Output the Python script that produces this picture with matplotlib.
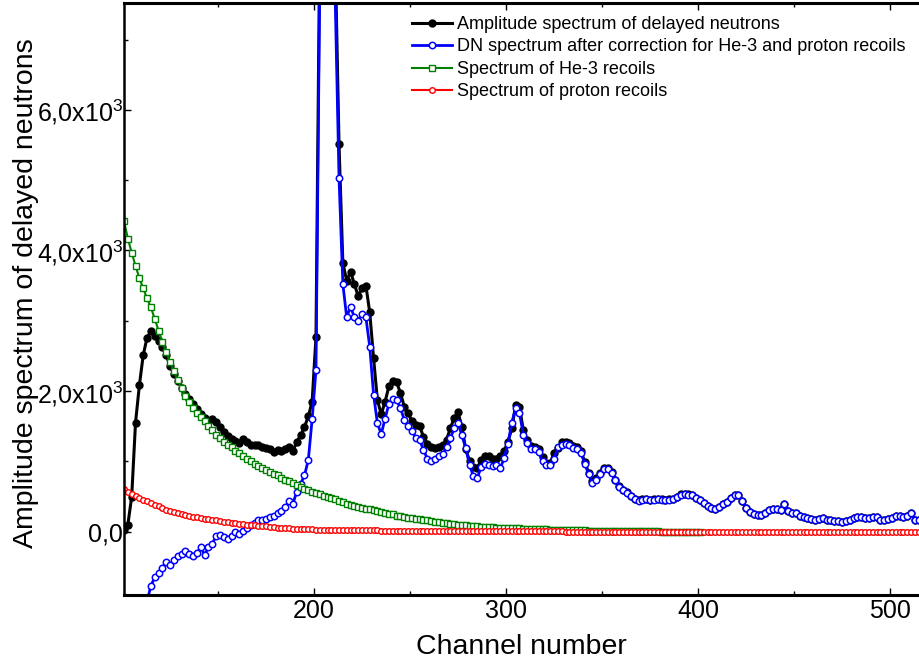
import numpy as np
import matplotlib.pyplot as plt
from matplotlib.ticker import FixedLocator

plt.rcParams['font.family'] = ['Liberation Sans', 'DejaVu Sans']
plt.rcParams['mathtext.default'] = 'regular'

# ---------------------------------------------------------
# DATA (every 2nd channel)
# ---------------------------------------------------------
# amplitude spectrum of delayed neutrons, channels 101..515
black_start = 101
black_vals = [
    20, 100, 495, 1550, 2080, 2510, 2760, 2850, 2790, 2710,
    2630, 2510, 2360, 2240, 2150, 2050, 1960, 1890, 1810, 1740,
    1680, 1620, 1570, 1600, 1560, 1490, 1420, 1360, 1320, 1290,
    1260, 1320, 1280, 1240, 1230, 1230, 1200, 1190, 1170, 1140,
    1160, 1150, 1170, 1210, 1150, 1280, 1370, 1490, 1640, 1850,
    2770, 8500, 14000, 15000, 12000, 8200, 5510, 3820, 3570, 3700,
    3520, 3350, 3470, 3500, 3120, 2470, 1870, 1670, 1850, 2070,
    2140, 2130, 1970, 1780, 1690, 1570, 1520, 1500, 1350, 1250,
    1200, 1190, 1210, 1230, 1310, 1470, 1620, 1700, 1490, 1170,
    1010, 920, 900, 1020, 1080, 1070, 1040, 1040, 1070, 1150,
    1280, 1470, 1800, 1780, 1440, 1300, 1220, 1200, 1170, 1060,
    980, 980, 1120, 1190, 1270, 1280, 1260, 1220, 1200, 1150,
    990, 840, 720, 760, 840, 910, 910, 850, 740, 650,
    600, 560, 510, 470, 450, 460, 470, 450, 460, 470,
    460, 450, 460, 470, 500, 530, 540, 530, 520, 480,
    450, 410, 370, 340, 330, 350, 390, 420, 480, 520,
    520, 440, 340, 280, 250, 235, 240, 270, 310, 330,
    320, 310, 390, 290, 270, 260, 230, 210, 195, 180,
    160, 180, 190, 170, 160, 150, 155, 140, 150, 160,
    190, 210, 205, 200, 195, 210, 205, 170, 165, 185,
    195, 225, 220, 205, 220, 270, 170, 170,
]

# DN spectrum after correction, channels 113..515
blue_start = 113
blue_vals = [
    -990, -770, -650, -590, -510, -430, -480, -400, -350, -320,
    -280, -320, -350, -300, -220, -330, -220, -170, -60, -40,
    -80, -100, -60, -10, -30, 10, 50, 90, 130, 160,
    160, 180, 210, 230, 270, 290, 350, 430, 400, 570,
    680, 800, 1020, 1600, 2300, 7900, 13500, 14500, 11500, 7600,
    5030, 3520, 3050, 3200, 3050, 3000, 3100, 3050, 2630, 1950,
    1540, 1390, 1610, 1820, 1890, 1870, 1760, 1590, 1500, 1430,
    1340, 1310, 1160, 1040, 1000, 1030, 1080, 1100, 1200, 1330,
    1470, 1550, 1370, 1190, 950, 790, 760, 920, 970, 955,
    930, 945, 900, 1050, 1250, 1550, 1760, 1690, 1380, 1260,
    1170, 1180, 1140, 1000, 950, 945, 1040, 1200, 1240, 1250,
    1235, 1195, 1175, 1125, 970, 820, 700, 740, 825, 895,
    897, 838, 730, 640, 592, 552, 503, 463, 444, 454,
    465, 445, 456, 466, 457, 447, 458, 468, 498, 529,
    539, 529, 519, 479, 450, 410, 370, 340, 330, 350,
    390, 420, 480, 520, 520, 440, 340, 280, 250, 235,
    240, 270, 310, 330, 320, 310, 390, 290, 270, 260,
    230, 210, 195, 180, 160, 180, 190, 170, 160, 150,
    155, 140, 150, 160, 190, 210, 205, 200, 195, 210,
    205, 170, 165, 185, 195, 225, 220, 205, 220, 270,
    170, 170,
]

# He-3 recoils, channels 101..401
green_start = 101
green_vals = [
    4420, 4170, 3970, 3780, 3610, 3460, 3320, 3190, 3030, 2860,
    2700, 2560, 2420, 2290, 2160, 2040, 1930, 1840, 1760, 1690,
    1630, 1570, 1510, 1440, 1380, 1330, 1280, 1240, 1200, 1150,
    1120, 1080, 1040, 1010, 970, 930, 900, 880, 850, 820,
    800, 770, 740, 720, 690, 660, 640, 610, 590, 560,
    550, 530, 510, 490, 480, 460, 440, 420, 400, 380,
    365, 355, 340, 330, 320, 305, 295, 280, 265, 255,
    245, 230, 220, 210, 200, 190, 180, 175, 165, 160,
    150, 145, 135, 130, 120, 115, 110, 100, 95, 90,
    85, 80, 75, 70, 68, 65, 62, 58, 56, 54,
    52, 50, 48, 46, 44, 42, 40, 38, 36, 34,
    32, 30, 29, 28, 26, 25, 23, 22, 20, 19,
    18, 17, 16, 15, 14, 13, 12, 11, 10, 9,
    8, 8, 7, 7, 6, 6, 5, 5, 4, 4,
    3, 3, 2, 2, 2, 1, 1, 1, 0, 0,
    0,
]

# proton recoils, channels 101..515
red_start = 101
red_vals = [
    610, 570, 530, 505, 480, 455, 430, 405, 385, 360,
    335, 315, 295, 280, 265, 250, 235, 225, 215, 205,
    195, 185, 175, 165, 160, 150, 145, 135, 130, 120,
    115, 110, 100, 95, 90, 85, 80, 75, 70, 65,
    60, 55, 50, 48, 45, 42, 40, 37, 35, 32,
    30, 28, 27, 26, 25, 25, 24, 23, 22, 22,
    21, 20, 20, 19, 19, 18, 18, 17, 17, 16,
    16, 15, 15, 14, 14, 14, 13, 13, 13, 12,
    12, 12, 12, 11, 11, 11, 11, 10, 10, 10,
    10, 10, 9, 9, 9, 9, 8, 8, 8, 8,
    8, 7, 7, 7, 6, 6, 6, 6, 5, 5,
    5, 5, 4, 4, 4, 3, 3, 3, 3, 2,
    2, 2, 2, 2, 1, 1, 1, 1, 0, 0,
    0, 0, 0, 0, 0, 0, 0, 0, 0, 0,
    0, 0, 0, 0, 0, 0, 0, 0, 0, 0,
    0, 0, 0, 0, 0, 0, 0, 0, 0, 0,
    0, 0, 0, 0, 0, 0, 0, 0, 0, 0,
    0, 0, 0, 0, 0, 0, 0, 0, 0, 0,
    0, 0, 0, 0, 0, 0, 0, 0, 0, 0,
    0, 0, 0, 0, 0, 0, 0, 0, 0, 0,
    0, 0, 0, 0, 0, 0, 0, 0,
]

labels = [
    "Amplitude spectrum of delayed neutrons",
    "DN spectrum after correction for He-3 and proton recoils",
    "Spectrum of He-3 recoils",
    "Spectrum of proton recoils",
]

x_ticks = [200, 300, 400, 500]
x_minor = [150, 250, 350, 450]
y_ticks = [0, 2000, 4000, 6000]
y_ticklabels = ["0,0", "2,0x10$^3$", "4,0x10$^3$", "6,0x10$^3$"]
y_minor = [1000, 3000, 5000, 7000]


def chans(start, vals):
    return np.arange(start, start + 2 * len(vals), 2)


# ---------------------------------------------------------
# PLOT
# ---------------------------------------------------------
fig = plt.figure(figsize=(9.19, 6.64), dpi=100)
ax = fig.add_axes([124 / 919, 69 / 664, 795 / 919, 592 / 664])

ax.plot(chans(black_start, black_vals), black_vals, color='black', lw=2.2,
        marker='o', ms=5, mfc='black', mec='black', label=labels[0])
ax.plot(chans(blue_start, blue_vals), blue_vals, color='#0000ff', lw=2,
        marker='o', ms=4.6, mfc='white', mec='#0000ff', mew=1.1, label=labels[1])
ax.plot(chans(green_start, green_vals), green_vals, color='#008000', lw=1.5,
        marker='s', ms=4, mfc='white', mec='#008000', mew=1, label=labels[2])
ax.plot(chans(red_start, red_vals), red_vals, color='#ff0000', lw=1.5,
        marker='o', ms=4, mfc='white', mec='#ff0000', mew=1, label=labels[3])

ax.set_xlim(101, 515.1)
ax.set_ylim(-900, 7520)

ax.set_xticks(x_ticks)
ax.set_xticklabels([str(t) for t in x_ticks])
ax.xaxis.set_minor_locator(FixedLocator(x_minor))
ax.set_yticks(y_ticks)
ax.set_yticklabels(y_ticklabels)
ax.yaxis.set_minor_locator(FixedLocator(y_minor))

ax.tick_params(which='both', direction='in', top=True, right=False,
               labelsize=18, width=1)
ax.tick_params(which='major', length=5)
ax.tick_params(which='minor', length=3)
ax.tick_params(axis='y', pad=0.5)
ax.tick_params(axis='x', pad=3)

ax.spines['right'].set_visible(False)
ax.spines['left'].set_linewidth(1.8)
ax.spines['top'].set_linewidth(2.2)
ax.spines['bottom'].set_linewidth(2.2)

ax.set_xlabel("Channel number", fontsize=20.5, labelpad=8)
ax.set_ylabel("Amplitude spectrum of delayed neutrons", fontsize=20.5)
ax.yaxis.set_label_coords(-0.107, 0.51)

fig.legend(loc='upper left', bbox_to_anchor=(412 / 919, 1 - 16 / 664),
           frameon=False, fontsize=13, handlelength=2.2, handletextpad=0.28,
           labelspacing=0.3, borderpad=0, borderaxespad=0, numpoints=1)

fig.savefig('out.png', dpi=100)
